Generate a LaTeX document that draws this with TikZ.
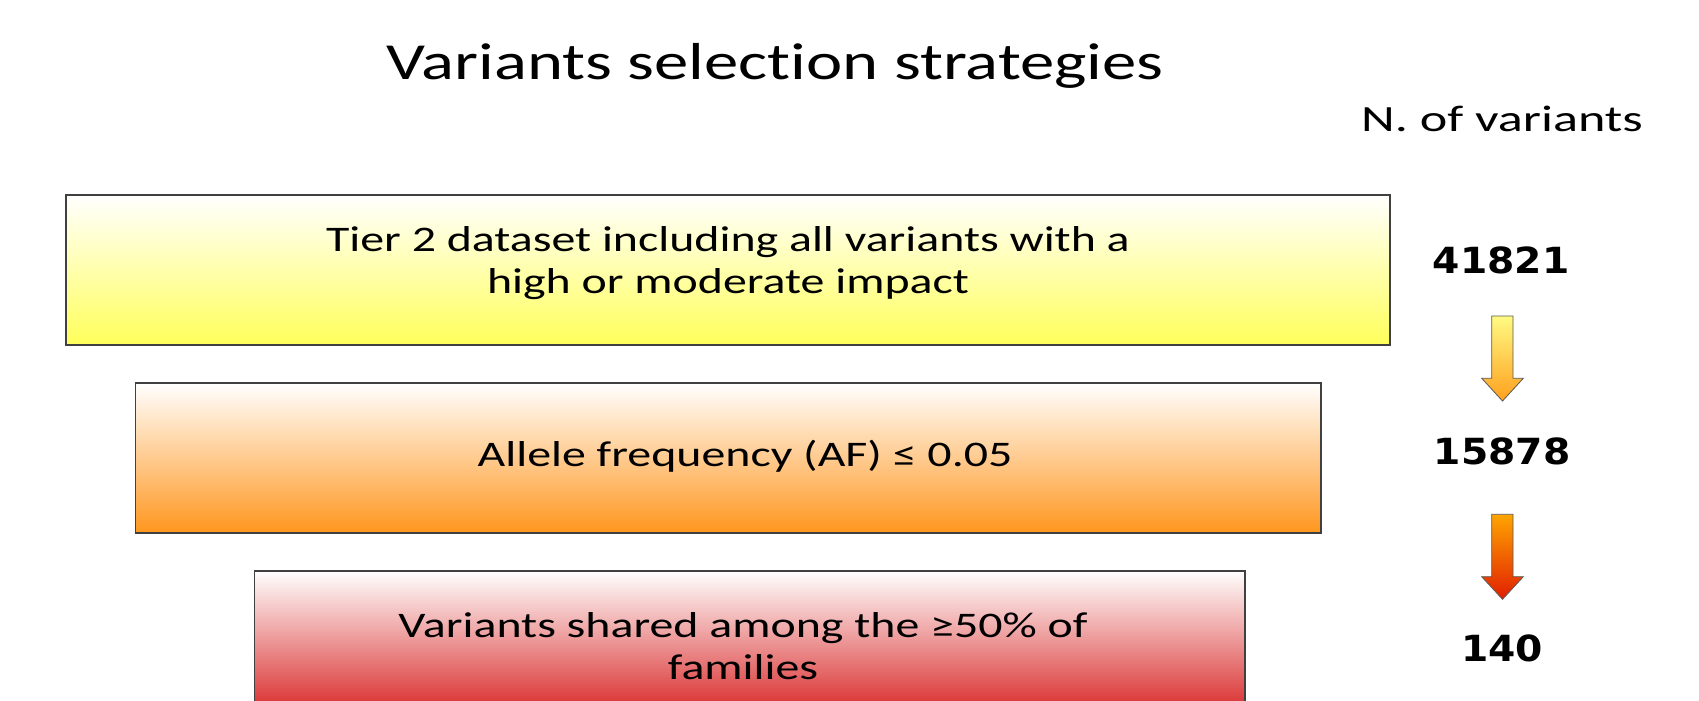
\documentclass[tikz,border=0pt]{standalone}
\usepackage{fontspec}
\setmainfont{Carlito}[FakeStretch=1.33, Ligatures=NoCommon]
\newfontfamily\titlefont{Carlito}[FakeStretch=1.32, Ligatures=NoCommon]
\newfontfamily\headfont{Carlito}[FakeStretch=1.41, Ligatures=NoCommon]
\newfontfamily\numfont{DejaVu Sans}[FakeStretch=1.09]
\usetikzlibrary{calc}
\tikzset{
  stage/.style={draw=gray!50!black, line width=1.1pt},
  flowarrow/.style={draw=gray!70!black, line width=0.8pt, line join=miter},
  stagetext/.style={align=center, font=\fontsize{36}{42}\selectfont, inner sep=0pt},
  count/.style={font=\numfont\bfseries\fontsize{36}{42}\selectfont, inner sep=0pt, anchor=base},
}
\begin{document}
\begin{tikzpicture}[x=1pt, y=-1pt]
\useasboundingbox (0,0) rectangle (1699,701);
\clip (0,0) rectangle (1699,701);
\fill[white] (0,0) rectangle (1699,701);

% title and column header
\node[font=\titlefont\fontsize{52}{60}\selectfont, inner sep=0pt, anchor=base] (title) at (775,79) {Variants selection strategies};
\node[font=\headfont\fontsize{37}{44}\selectfont, inner sep=0pt, anchor=base] (header) at (1502,131) {N. of variants};

% filtering stages
\shade[top color=white, bottom color={rgb,255:red,255;green,255;blue,90}] (66,195) rectangle (1390,345);
\draw[stage] (66,195) rectangle (1390,345);
\coordinate (s1) at (728,263.5);
\node[stagetext] (t1) at (s1) {Tier 2 dataset including all variants with a\\high or moderate impact};

\shade[top color=white, bottom color={rgb,255:red,255;green,150;blue,30}] (135.5,383) rectangle (1321,533);
\draw[stage] (135.5,383) rectangle (1321,533);
\coordinate (s2) at (745,456);
\node[stagetext] (t2) at (s2) {Allele frequency (AF) ≤ 0.05};

\shade[top color=white, bottom color={rgb,255:red,215;green,30;blue,30}] (254.5,571) rectangle (1245,721);
\draw[stage] (254.5,571) rectangle (1245,721);
\coordinate (s3) at (743,646);
\node[stagetext] (t3) at (s3) {Variants shared among the ≥50\% of\\families};

% variant counts
\node[count] (n1) at (1501,273) {41821};
\node[count] (n2) at (1502,464) {15878};
\node[count] (n3) at (1502,661) {140};

% block arrows between counts
\shade[top color={rgb,255:red,255;green,250;blue,130}, bottom color={rgb,255:red,255;green,160;blue,30}]
  (1491.7,316) -- (1513,316) -- (1513,378.3) -- (1523.3,378.3) -- (1502.5,401) -- (1481.7,378.3) -- (1491.7,378.3) -- cycle;
\draw[flowarrow]
  (1491.7,316) -- (1513,316) -- (1513,378.3) -- (1523.3,378.3) -- (1502.5,401) -- (1481.7,378.3) -- (1491.7,378.3) -- cycle;
\shade[top color={rgb,255:red,255;green,165;blue,0}, bottom color={rgb,255:red,225;green,30;blue,0}]
  (1491.7,514.3) -- (1513,514.3) -- (1513,576.7) -- (1523.3,576.7) -- (1502.5,599.3) -- (1481.7,576.7) -- (1491.7,576.7) -- cycle;
\draw[flowarrow]
  (1491.7,514.3) -- (1513,514.3) -- (1513,576.7) -- (1523.3,576.7) -- (1502.5,599.3) -- (1481.7,576.7) -- (1491.7,576.7) -- cycle;
\end{tikzpicture}
\end{document}
